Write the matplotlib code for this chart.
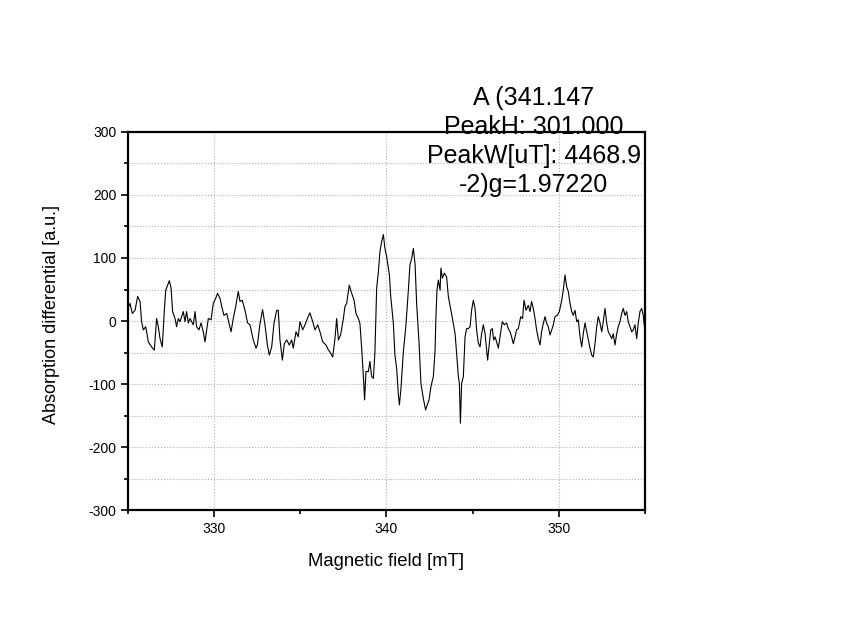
import matplotlib.pyplot as plt
from matplotlib.ticker import MultipleLocator

plt.rcParams['font.family'] = ['Liberation Sans', 'DejaVu Sans']
plt.rcParams['axes.unicode_minus'] = False

# ----------------- Data -----------------
field_mT = [
    325.00, 325.12, 325.25, 325.41, 325.56, 325.70, 325.79, 325.89, 326.03, 326.18,
    326.37, 326.53, 326.66, 326.76, 326.86, 326.99, 327.11, 327.19, 327.30, 327.40,
    327.50, 327.59, 327.73, 327.82, 327.92, 328.02, 328.21, 328.31, 328.40, 328.50,
    328.60, 328.79, 328.89, 328.98, 329.12, 329.24, 329.37, 329.47, 329.57, 329.66,
    329.82, 329.95, 330.09, 330.20, 330.34, 330.44, 330.57, 330.73, 330.86, 330.98,
    331.11, 331.25, 331.40, 331.50, 331.63, 331.79, 331.94,
    332.08, 332.27, 332.43, 332.51, 332.66, 332.81, 332.95, 333.09, 333.20, 333.34,
    333.47, 333.63, 333.72, 333.82, 333.96, 334.07, 334.21, 334.36, 334.50, 334.59,
    334.75, 334.88, 334.98, 335.14, 335.27, 335.41, 335.56, 335.72, 335.85, 336.01,
    336.14, 336.30, 336.49, 336.63, 336.72, 336.88, 337.01, 337.11, 337.21, 337.34,
    337.50, 337.59, 337.69, 337.84, 337.98, 338.12, 338.23, 338.37,
    338.46, 338.56, 338.66, 338.73, 338.81, 338.95, 339.04, 339.14, 339.24, 339.33,
    339.43, 339.53, 339.62, 339.72, 339.82, 339.91, 340.01, 340.17, 340.24, 340.40,
    340.49, 340.59, 340.69, 340.75, 340.84, 340.98, 341.13, 341.27, 341.36, 341.46,
    341.56, 341.66,
    341.75, 341.89, 342.00, 342.14, 342.27, 342.39, 342.47, 342.58, 342.72, 342.82,
    342.87, 342.93, 343.01, 343.11, 343.16, 343.24, 343.36, 343.49, 343.59, 343.74,
    343.88, 343.98, 344.07, 344.17, 344.23, 344.29, 344.36, 344.46, 344.56, 344.65,
    344.75, 344.85, 344.94, 345.04, 345.14, 345.23, 345.33, 345.43, 345.52, 345.62,
    345.72, 345.81, 345.87, 345.95, 346.05, 346.14, 346.22, 346.30, 346.39, 346.49,
    346.59, 346.72, 346.84,
    346.97, 347.07, 347.17, 347.26, 347.36, 347.46, 347.55, 347.65, 347.79, 347.90,
    347.98, 348.10, 348.23, 348.33, 348.42, 348.52, 348.62, 348.71, 348.81, 348.91,
    349.00, 349.10, 349.20, 349.30, 349.39, 349.49, 349.59, 349.68, 349.78, 349.91,
    350.03, 350.17, 350.26, 350.36, 350.46, 350.55, 350.65, 350.75, 350.84, 350.94,
    351.04, 351.13, 351.23, 351.33, 351.42, 351.52, 351.62, 351.71, 351.81, 351.91,
    352.00, 352.10, 352.20, 352.29, 352.39, 352.49, 352.58, 352.68, 352.78, 352.87,
    352.97, 353.07, 353.16, 353.26, 353.36, 353.45, 353.55, 353.65, 353.74, 353.84,
    353.94, 354.03, 354.13, 354.23, 354.32, 354.42, 354.52, 354.61, 354.71, 354.81,
    354.90, 355.00,
]
absorption = [
    20, 28, 12, 17, 39, 31, -1, -14, -9, -33,
    -41, -46, 4, -9, -28, -41, 17, 49, 57, 64,
    52, 15, 4, -9, 4, -1, 15, -1, 15, -3,
    4, -6, 15, -9, -14, -3, -17, -33, -14, 4,
    2, 28, 36, 44, 36, 23, 9, 12, -3, -17,
    4, 23, 47, 31, 33, 17, -3,
    -6, -30, -43, -38, -4, 18, -6, -38, -54, -41,
    -4, 17, 17, -30, -62, -36, -30, -38, -30, -43,
    -17, -25, -1, -14, -6, 4, 13, -1, -14, -6,
    -17, -33, -38, -46, -49, -57, -28, 4, -30, -22,
    4, 23, 28, 57, 44, 33, 12, 4,
    -4, -43, -88, -125, -80, -80, -64, -88, -91, -49,
    52, 78, 110, 126, 137, 115, 102, 73, 41, -4,
    -54, -75, -117, -133, -107, -49, -6, 49, 89, 99,
    115, 90,
    28, -35, -99, -123, -141, -131, -125, -104, -88, -46,
    7, 49, 65, 49, 84, 68, 76, 70, 39, 17,
    -4, -20, -51, -88, -99, -162, -99, -88, -25, -12,
    -12, -9, 17, 33, 20, -14, -35, -41, -20, -6,
    -20, -46, -62, -41, -14, -12, -30, -25, -33, -43,
    -25, -1, -6,
    -3, -12, -17, -25, -36, -25, -14, -12, 7, 4,
    33, 17, 25, 15, 31, 20, 4, -14, -28, -38,
    -17, -4, 7, -4, -9, -22, -14, -6, 7, 9,
    15, 33, 49, 73, 54, 47, 28, 15, 9, 17,
    -1, 2, -25, -41, -20, -3, -17, -30, -43, -54,
    -57, -36, -9, 7, -3, -17, -1, 20, -3, -17,
    -22, -28, -20, -38, -20, -9, -1, 12, 20, 9,
    15, -1, -9, -17, -14, -6, -28, -3, 15, 20,
    9, -17,
]
annotation = "A (341.147\nPeakH: 301.000\nPeakW[uT]: 4468.9\n-2)g=1.97220"

# ----------------- Plot -----------------
fig = plt.figure(figsize=(8.42, 6.37), dpi=100)
ax = fig.add_axes([0.152, 0.199, 0.614, 0.594])

ax.plot(field_mT, absorption, color='black', lw=0.8)

ax.set_xlim(325, 355)
ax.set_ylim(-300, 300)
ax.xaxis.set_major_locator(MultipleLocator(10))
ax.xaxis.set_minor_locator(MultipleLocator(5))
ax.yaxis.set_major_locator(MultipleLocator(100))
ax.yaxis.set_minor_locator(MultipleLocator(50))

ax.grid(which='major', axis='x', color='#b0b0b0', ls=':', lw=0.8)
ax.grid(which='both', axis='y', color='#b0b0b0', ls=':', lw=0.8)

for s in ax.spines.values():
    s.set_linewidth(1.6)
ax.tick_params(which='major', direction='out', length=5, width=1.2, labelsize=10)
ax.tick_params(which='minor', direction='out', length=3, width=1.2)

ax.set_xlabel("Magnetic field [mT]", fontsize=13.3, labelpad=12)
ax.set_ylabel("Absorption differential [a.u.]", fontsize=13)
ax.yaxis.set_label_coords(-0.131, 0.518)

fig.text(0.634, 0.778, annotation, ha='center', va='center',
         multialignment='center', fontsize=18, linespacing=1.27)

fig.savefig("out.png", dpi=100)
